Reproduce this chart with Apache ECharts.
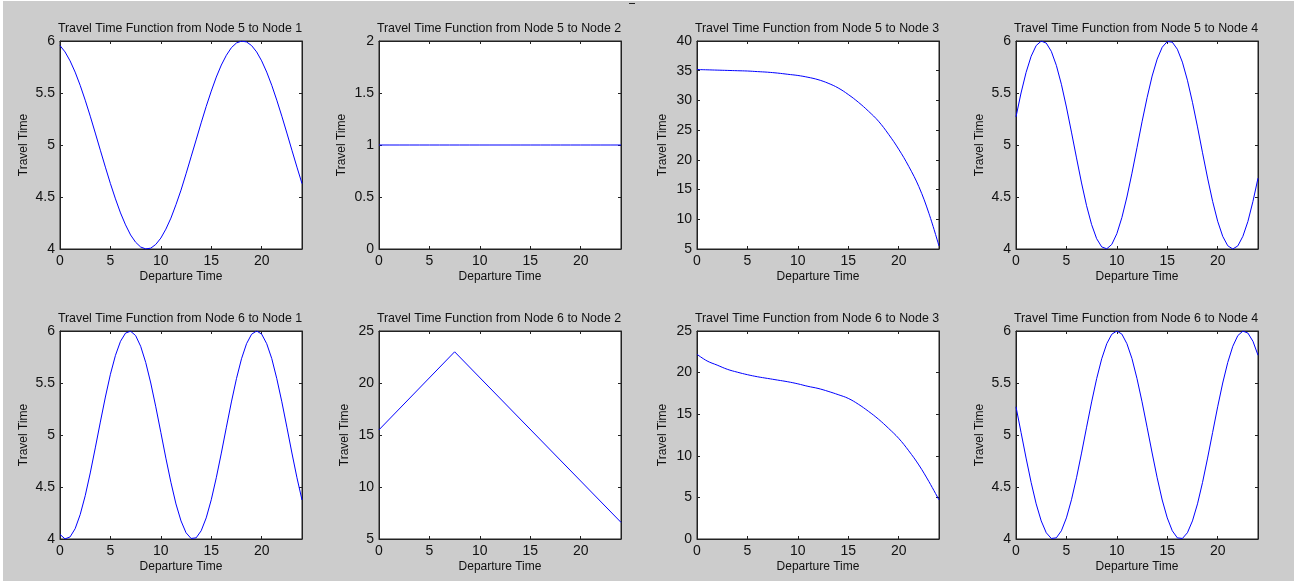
<!DOCTYPE html>
<html lang="en">
  <head>
    <meta charset="UTF-8" />
    <title>Travel time functions</title>
    <script src="https://cdn.jsdelivr.net/npm/echarts@6/dist/echarts.min.js"></script>
    <style>
      html, body { margin: 0; padding: 0; background: #fff; }
      #main { width: 1294px; height: 581px; }
    </style>
  </head>
  <body>
    <div id="main"></div>

    <script>
      // departure time samples (hours)
      const departure = [0, 0.5, 1, 1.5, 2, 2.5, 3, 3.5, 4, 4.5, 5, 5.5, 6, 6.5, 7, 7.5, 8, 8.5, 9, 9.5, 10, 10.5, 11, 11.5, 12, 12.5, 13, 13.5, 14, 14.5, 15, 15.5, 16, 16.5, 17, 17.5, 18, 18.5, 19, 19.5, 20, 20.5, 21, 21.5, 22, 22.5, 23, 23.5, 24];
      const departureHourly = [0, 1, 2, 3, 4, 5, 6, 7, 8, 9, 10, 11, 12, 13, 14, 15, 16, 17, 18, 19, 20, 21, 22, 23, 24];

      // travel times
      const node5to1 = [5.956, 5.895, 5.809, 5.701, 5.574, 5.431, 5.277, 5.115, 4.95, 4.787, 4.629, 4.482, 4.347, 4.232, 4.135, 4.065, 4.019, 4.001, 4.008, 4.044, 4.105, 4.191, 4.297, 4.426, 4.566, 4.723, 4.886, 5.049, 5.213, 5.371, 5.518, 5.653, 5.769, 5.863, 5.936, 5.981, 5.999, 5.991, 5.956, 5.895, 5.809, 5.701, 5.574, 5.431, 5.277, 5.115, 4.95, 4.787, 4.629];
      const node5to2 = [1, 1, 1, 1, 1, 1, 1, 1, 1, 1, 1, 1, 1, 1, 1, 1, 1, 1, 1, 1, 1, 1, 1, 1, 1];
      const node5to3 = [35.2, 35.15, 35.1, 35.05, 35.0, 34.95, 34.85, 34.75, 34.6, 34.4, 34.2, 33.9, 33.5, 32.9, 32.1, 31.0, 29.7, 28.2, 26.5, 24.3, 21.8, 18.9, 15.5, 11.0, 5.5];
      const node5to4 = [5.271, 5.5, 5.698, 5.853, 5.956, 5.999, 5.98, 5.901, 5.766, 5.584, 5.365, 5.124, 4.876, 4.635, 4.416, 4.234, 4.099, 4.02, 4.002, 4.044, 4.147, 4.302, 4.5, 4.729, 4.975, 5.223, 5.455, 5.663, 5.826, 5.94, 5.995, 5.989, 5.921, 5.797, 5.623, 5.411, 5.174, 4.925, 4.682, 4.458, 4.267, 4.122, 4.031, 4.0, 4.03, 4.122, 4.265, 4.458, 4.681];
      const node6to1 = [4.044, 4.001, 4.02, 4.099, 4.234, 4.416, 4.635, 4.876, 5.124, 5.365, 5.584, 5.766, 5.901, 5.98, 5.998, 5.956, 5.853, 5.698, 5.5, 5.271, 5.025, 4.777, 4.545, 4.337, 4.174, 4.06, 4.005, 4.011, 4.079, 4.203, 4.377, 4.589, 4.826, 5.075, 5.318, 5.542, 5.733, 5.878, 5.969, 6.0, 5.97, 5.878, 5.735, 5.542, 5.319, 5.075, 4.827, 4.589, 4.375];
      const node6to2Departure = [0, 7.5, 24];
      const node6to2 = [15.5, 23, 6.6];
      const node6to3 = [22.2, 21.4, 20.9, 20.4, 20.05, 19.75, 19.5, 19.3, 19.1, 18.9, 18.65, 18.35, 18.1, 17.75, 17.35, 16.9, 16.2, 15.35, 14.4, 13.3, 12.1, 10.6, 8.9, 6.9, 4.7];
      const node6to4 = [5.271, 5.025, 4.778, 4.544, 4.338, 4.174, 4.06, 4.005, 4.011, 4.079, 4.203, 4.377, 4.589, 4.826, 5.075, 5.318, 5.542, 5.733, 5.878, 5.969, 6.0, 5.97, 5.878, 5.735, 5.542, 5.319, 5.075, 4.827, 4.589, 4.375, 4.203, 4.079, 4.011, 4.005, 4.06, 4.174, 4.338, 4.544, 4.778, 5.025, 5.271, 5.5, 5.698, 5.853, 5.956, 5.999, 5.98, 5.901, 5.767];

      const fromNodes = [5, 5, 5, 5, 6, 6, 6, 6];
      const toNodes = [1, 2, 3, 4, 1, 2, 3, 4];

      // y axis ticks per subplot
      const yMin = [4, 0, 5, 4, 4, 5, 0, 4];
      const yMax = [6, 2, 40, 6, 6, 25, 25, 6];
      const yStep = [0.5, 0.5, 5, 0.5, 0.5, 5, 5, 0.5];

      // x axis ticks (shared)
      const xMin = 0;
      const xMax = 24;
      const xStep = 5;

      const seriesX = [departure, departureHourly, departureHourly, departure, departure, node6to2Departure, departureHourly, departure];
      const seriesY = [node5to1, node5to2, node5to3, node5to4, node6to1, node6to2, node6to3, node6to4];
      const smoothed = [false, false, true, false, false, false, true, false];

      // subplot layout
      const colLeft = [60, 379, 697, 1016];
      const rowTop = [41, 331];
      const plotW = 242;
      const plotH = 208;
      const yNameGap = [30, 31, 28, 30, 30, 28, 28, 30];

      const font = "'Liberation Sans', Arial, sans-serif";
      const ink = '#111';

      const titles = [], grids = [], xAxes = [], yAxes = [], series = [];

      for (let i = 0; i < 8; i++) {
        const left = colLeft[i % 4];
        const top = rowTop[Math.floor(i / 4)];

        // title padding (5px) shifts the box, so pull it back
        titles.push({
          text: 'Travel Time Function from Node ' + fromNodes[i] + ' to Node ' + toNodes[i],
          left: left + plotW / 2 - 6,
          top: top - 23,
          textAlign: 'center',
          textStyle: { fontFamily: font, fontSize: 12.4, fontWeight: 'normal', color: ink },
        });

        grids.push({
          left: left,
          top: top,
          width: plotW,
          height: plotH,
          show: true,
          backgroundColor: '#fff',
          borderColor: '#222',
          borderWidth: 1,
        });

        const tick = { show: true, inside: true, length: 3, lineStyle: { color: '#222' } };
        const line = { show: true, onZero: false, lineStyle: { color: '#222' } };

        xAxes.push({
          type: 'value', gridIndex: i, position: 'bottom',
          min: xMin, max: xMax, interval: xStep,
          name: 'Departure Time', nameLocation: 'middle', nameGap: 22,
          nameTextStyle: { fontFamily: font, fontSize: 12, color: ink },
          axisLine: line, axisTick: tick, splitLine: { show: false },
          axisLabel: { fontFamily: font, fontSize: 14, color: ink, margin: 5, showMaxLabel: false },
        });
        xAxes.push({
          type: 'value', gridIndex: i, position: 'top',
          min: xMin, max: xMax, interval: xStep,
          axisLine: line, axisTick: tick, splitLine: { show: false },
          axisLabel: { show: false },
        });

        yAxes.push({
          type: 'value', gridIndex: i, position: 'left',
          min: yMin[i], max: yMax[i], interval: yStep[i],
          name: 'Travel Time', nameLocation: 'middle', nameGap: yNameGap[i],
          nameTextStyle: { fontFamily: font, fontSize: 12, color: ink },
          axisLine: line, axisTick: tick, splitLine: { show: false },
          axisLabel: { fontFamily: font, fontSize: 14, color: ink, margin: 5 },
        });
        yAxes.push({
          type: 'value', gridIndex: i, position: 'right',
          min: yMin[i], max: yMax[i], interval: yStep[i],
          axisLine: line, axisTick: tick, splitLine: { show: false },
          axisLabel: { show: false },
        });

        series.push({
          type: 'line',
          xAxisIndex: i * 2,
          yAxisIndex: i * 2,
          data: seriesX[i].map((x, k) => [x, seriesY[i][k]]),
          showSymbol: false,
          smooth: smoothed[i] ? 0.4 : false,
          lineStyle: { color: '#0000ff', width: 1 },
          clip: true,
        });
      }

      const options = {
        animation: false,
        backgroundColor: '#cccccc',
        title: titles,
        grid: grids,
        xAxis: xAxes,
        yAxis: yAxes,
        series: series,
        graphic: [
          { type: 'rect', left: 0, top: 0, shape: { width: 3, height: 581 }, style: { fill: '#fff' } },
          { type: 'rect', left: 0, top: 0, shape: { width: 1294, height: 1 }, style: { fill: '#fff' } },
          { type: 'rect', left: 629, top: 3, shape: { width: 6, height: 1 }, style: { fill: '#222' } },
        ],
      };

      var myChart = echarts.init(document.querySelector('#main'));
      myChart.setOption(options);
    </script>
  </body>
</html>
